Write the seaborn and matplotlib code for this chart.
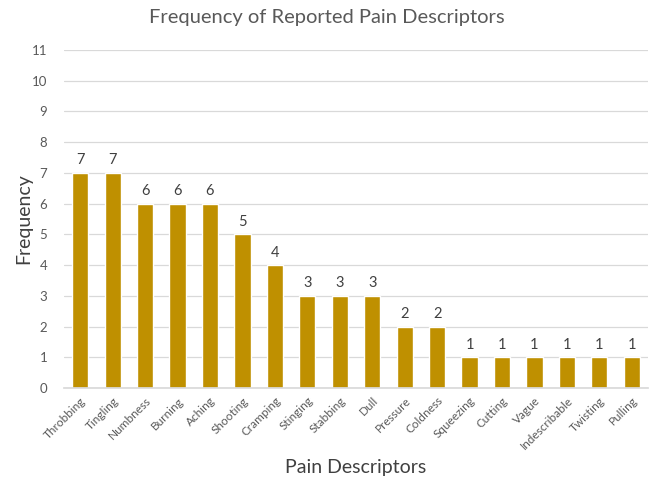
import matplotlib
matplotlib.use("Agg")
import matplotlib.pyplot as plt
import seaborn as sns
import pandas as pd

categories = ["Throbbing", "Tingling", "Numbness", "Burning", "Aching", "Shooting",
              "Cramping", "Stinging", "Stabbing", "Dull", "Pressure", "Coldness",
              "Squeezing", "Cutting", "Vague", "Indescribable", "Twisting", "Pulling"]
frequency = [7, 7, 6, 6, 6, 5, 4, 3, 3, 3, 2, 2, 1, 1, 1, 1, 1, 1]
y_ticks = list(range(0, 12))

df = pd.DataFrame({"Descriptor": categories, "Frequency": frequency})

sns.set_theme(style="white")
plt.rcParams['font.family'] = ['Lato', 'DejaVu Sans']

fig = plt.figure(figsize=(6.53, 4.8), dpi=100)
ax = fig.add_axes([64/653, 1 - 388/480, 584/653, 338/480])

sns.barplot(data=df, x="Descriptor", y="Frequency", color="#BF9000",
            saturation=1, width=0.5, ax=ax)

ax.set_ylim(0, 11)
ax.set_xlim(-0.5, len(categories) - 0.5)
ax.set_yticks(y_ticks)
ax.yaxis.grid(True, color="#D9D9D9", linewidth=0.9)
ax.set_axisbelow(True)
for s in ["top", "right", "left"]:
    ax.spines[s].set_visible(False)
ax.spines["bottom"].set_color("#D9D9D9")
ax.tick_params(axis="both", length=0)
ax.tick_params(axis="y", labelsize=9.5, labelcolor="#595959", pad=12)
ax.set_xticks(range(len(categories)))
ax.set_xticklabels(categories, rotation=45, ha="right", rotation_mode="anchor",
                   fontsize=8.5, color="#595959")
ax.tick_params(axis="x", pad=5)

for c in ax.containers:
    ax.bar_label(c, labels=[str(v) for v in frequency], padding=4,
                 fontsize=10.5, color="#404040")

ax.set_xlabel("Pain Descriptors", fontsize=14, color="#404040", va="center")
ax.xaxis.set_label_coords(0.5, (388 - 467) / 338)
ax.set_ylabel("Frequency", fontsize=14, color="#404040", va="center")
ax.yaxis.set_label_coords((24 - 64) / 584, 0.5)
fig.suptitle("Frequency of Reported Pain Descriptors", fontsize=14.5,
             color="#595959", y=1 - 18/480, va="center")

fig.savefig("out.png", dpi=100)
